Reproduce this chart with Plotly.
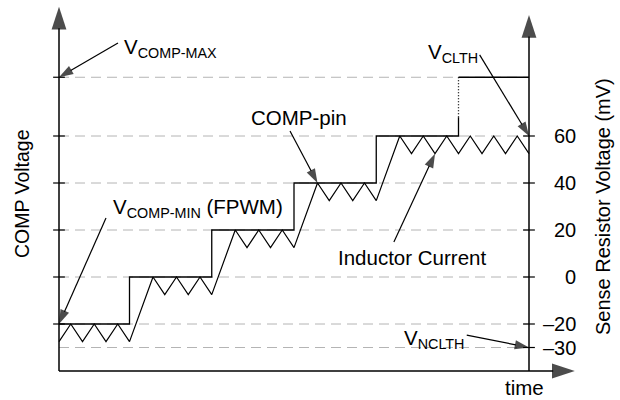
import plotly.graph_objects as go

# --- waveform data -------------------------------------------------------
# time in switching half-periods, voltages in mV (sense-resistor scale)
step_times = [0, 6, 13, 20, 27, 34, 40]          # COMP level changes
comp_levels = [-20, 0, 20, 40, 60, 85]            # COMP level on each interval
comp_solid_top = 68                               # last rise: solid up to here, dotted above

# inductor current ramp vertices (peak / valley corners)
il_t = [0, 1, 2, 3, 4, 5, 6,
        8, 9, 10, 11, 12, 13,
        15, 16, 17, 18, 19, 20,
        22, 23, 24, 25, 26, 27,
        29, 30, 31, 32, 33, 34, 35, 36, 37, 38, 39, 40]
il_v = [-27.5, -20, -27.5, -20, -27.5, -20, -27.5,
        0, -7.5, 0, -7.5, 0, -7.5,
        20, 12.5, 20, 12.5, 20, 12.5,
        40, 32.5, 40, 32.5, 40, 32.5,
        60, 52.5, 60, 52.5, 60, 52.5, 60, 52.5, 60, 52.5, 60, 52.5]

grid_levels = [85, 60, 40, 20, 0, -20, -30]
left_tick_vals = [85, 60, 40, 20, 0, -20]
right_tick_vals = [60, 40, 20, 0, -20, -30]
right_tick_text = ["60", "40", "20", "0", "\u201320", "\u201330"]

T0, T1 = step_times[0], step_times[-1]
V_BOTTOM = -40

FONT = "Liberation Sans, Arial, sans-serif"
BLACK = "#000000"
GRID = "#b4b4b4"

fig = go.Figure()


def line(x, y, width=1.2, dash="solid", color=BLACK):
    fig.add_trace(go.Scatter(x=x, y=y, mode="lines",
                             line=dict(color=color, width=width, dash=dash),
                             hoverinfo="skip"))


def arrow(x0, y0, x1, y1, size=15, width=1.2):
    fig.add_trace(go.Scatter(
        x=[x0, x1], y=[y0, y1], mode="lines+markers",
        line=dict(color=BLACK, width=width),
        marker=dict(symbol="arrow", angleref="previous", size=[0, size],
                    color=BLACK, line=dict(width=0)),
        hoverinfo="skip"))


# dashed reference levels
for lv in grid_levels:
    line([T0, T1], [lv, lv], width=1, dash="10px,6px", color=GRID)

# tick marks
for lv in left_tick_vals:
    line([T0 - 0.5, T0 + 0.5], [lv, lv], width=1.2)
for lv in right_tick_vals:
    line([T1 - 0.5, T1 + 0.5], [lv, lv], width=1.2)

# axes with arrow heads
arrow(T0, V_BOTTOM, T0, 115, size=24, width=1.5)
arrow(T1, V_BOTTOM, T1, 111.5, size=24, width=1.5)
arrow(T0, V_BOTTOM, 43.9, V_BOTTOM, size=24, width=1.5)

# COMP-pin staircase
cx, cy = [], []
for i, lv in enumerate(comp_levels[:-1]):
    cx += [step_times[i], step_times[i + 1]]
    cy += [lv, lv]
cx.append(step_times[-2])
cy.append(comp_solid_top)
line(cx, cy, width=1.3)
line([step_times[-2], step_times[-2]], [comp_solid_top, comp_levels[-1]],
     width=1.3, dash="1px,2px")
line([step_times[-2], step_times[-1]], [comp_levels[-1], comp_levels[-1]], width=1.3)

# inductor current
line(il_t, il_v, width=1.2)

# callout arrows
arrow(5.02, 99.6, 0, 85)          # V_COMP-MAX
arrow(19.66, 62.1, 22, 40)        # COMP-pin
arrow(4.0, 25.1, 0, -20)          # V_COMP-MIN
arrow(28.5, 14.9, 32, 52.5)       # Inductor Current
arrow(35.8, 94.5, 40, 60)         # V_CLTH
arrow(34.7, -24.7, 40, -30)       # V_NCLTH


def label(text, x, y, xanchor="left", yanchor="middle", size=20.5, angle=0):
    fig.add_annotation(x=x, y=y, text=text, showarrow=False,
                       xanchor=xanchor, yanchor=yanchor, textangle=angle,
                       font=dict(family=FONT, size=size, color=BLACK))


label("V<sub>COMP-MAX</sub>", 5.35, 97.5)
label("COMP-pin", 16.2, 67.7)
label("V<sub>COMP-MIN</sub> (FPWM)", 4.4, 29.5)
label("Inductor Current", 23.6, 8.5)
label("V<sub>CLTH</sub>", 31.2, 95.5)
label("V<sub>NCLTH</sub>", 29.2, -26.5)
label("time", 39.6, -47.2, xanchor="center")

for v, t in zip(right_tick_vals, right_tick_text):
    label(t, 44.2, v, xanchor="right", size=20)

label("COMP Voltage", -3.15, 35.7, xanchor="center", angle=-90, size=19.5)
label("Sense Resistor Voltage (mV)", 46.3, 29.8, xanchor="center", angle=-90, size=20)

fig.update_layout(
    width=620, height=400,
    margin=dict(l=0, r=0, t=0, b=0),
    paper_bgcolor="white", plot_bgcolor="white",
    showlegend=False,
    xaxis=dict(range=[-59 / 11.75, 561 / 11.75], visible=False, fixedrange=True),
    yaxis=dict(range=[-123 / 2.35, 277 / 2.35], visible=False, fixedrange=True),
)

fig.write_html("out.html", config={"displayModeBar": False})
